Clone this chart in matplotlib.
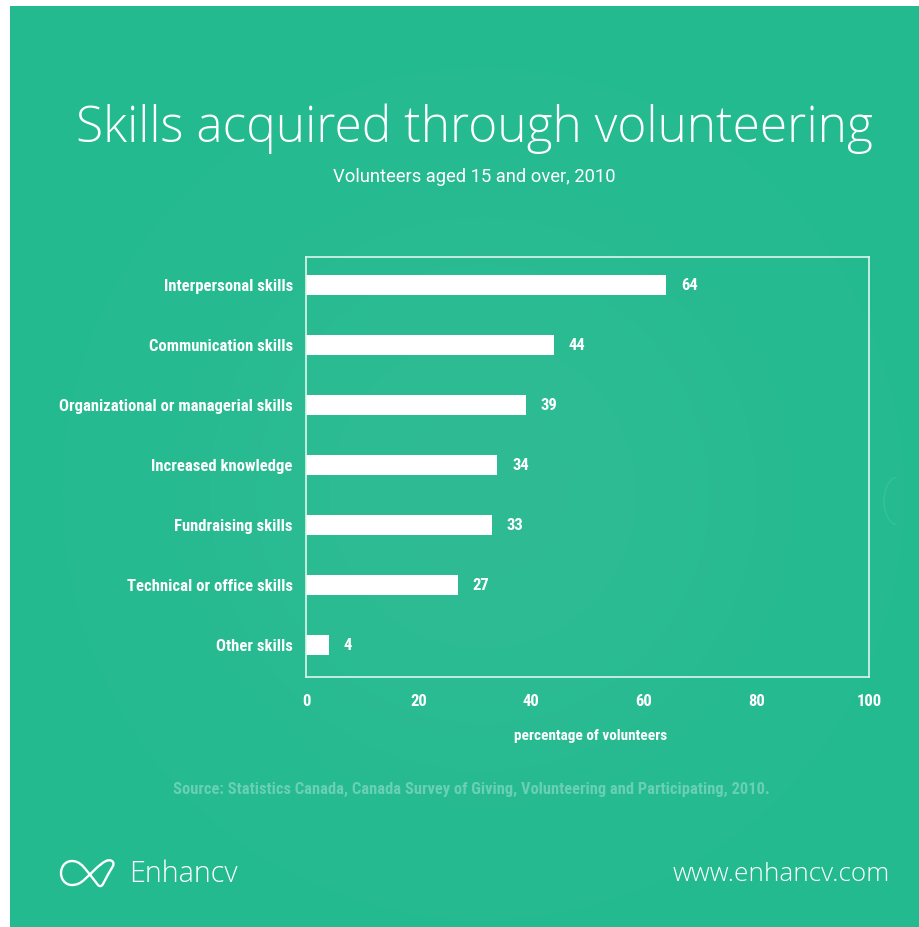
import numpy as np
import matplotlib
matplotlib.use("Agg")
import matplotlib.pyplot as plt
from matplotlib.path import Path
from matplotlib.patches import PathPatch, Arc

categories = ["Interpersonal skills", "Communication skills", "Organizational or managerial skills",
              "Increased knowledge", "Fundraising skills", "Technical or office skills", "Other skills"]
values = [64, 44, 39, 34, 33, 27, 4]
x_ticks = [0, 20, 40, 60, 80, 100]

W, H = 920, 927
NARROW = "Roboto Condensed"
THIN = "Open Sans"

fig = plt.figure(figsize=(W / 100, H / 100), dpi=100, facecolor="white")

# background with soft lighter glow in the middle
bg = fig.add_axes([10 / W, 0, 910 / W, 1 - 6 / H])
yy, xx = np.mgrid[0:1:200j, 0:1:200j]
glow = np.exp(-(((xx - 0.52) / 0.3) ** 2 + ((yy - 0.53) / 0.3) ** 2))
base = np.array([0x24, 0xBA, 0x8F]) / 255
top = np.array([0x2F, 0xBC, 0x95]) / 255
img = base + (top - base) * glow[..., None]
bg.imshow(img, extent=[0, 1, 0, 1], aspect="auto", interpolation="bilinear")
bg.axis("off")

# main chart
ax = fig.add_axes([306 / W, 1 - 677 / H, 563 / W, 420 / H])
ax.patch.set_alpha(0)
y = np.arange(len(categories))
ax.barh(y, values, height=0.32, color="white")
ax.set_xlim(0, 100)
ax.set_ylim(6.533, -0.467)
ax.set_yticks(y)
ax.set_yticklabels(categories)
ax.set_xticks(x_ticks)
ax.tick_params(length=0, colors="white")
ax.tick_params(axis="y", pad=9.5, labelsize=12)
ax.tick_params(axis="x", pad=12, labelsize=12)
for lab in ax.get_yticklabels() + ax.get_xticklabels():
    lab.set_fontfamily(NARROW)
    lab.set_fontweight("bold")
for s in ax.spines.values():
    s.set_color("#DDF5EE")
    s.set_linewidth(1.2)

for i, v in enumerate(values):
    ax.annotate(str(v), (v, i), xytext=(10.5, -0.7), textcoords="offset points", color="white",
                va="center", ha="left", fontsize=12, fontweight="bold", fontfamily=NARROW)

# titles and footer
fig.text(591 / W, 1 - 736 / H, "percentage of volunteers", color="white", fontsize=11, fontweight="bold",
         fontfamily=NARROW, ha="center", va="center")
fig.text(474 / W, 1 - 142 / H, "Skills acquired through volunteering", color="white", fontsize=35.7,
         fontfamily=THIN, fontweight="light", ha="center", va="baseline")
fig.text(474.5 / W, 1 - 177.5 / H, "Volunteers aged 15 and over, 2010", color="white", fontsize=13.2,
         fontfamily="Roboto", ha="center", va="center")
fig.text(471 / W, 1 - 789 / H, "Source: Statistics Canada, Canada Survey of Giving, Volunteering and Participating, 2010.",
         color="#68D0B3", fontsize=11.85, fontweight="bold", fontfamily=NARROW, ha="center", va="center")
fig.text(129 / W, 1 - 882 / H, "Enhancv", color="white", fontsize=20.7, fontfamily=THIN, fontweight="light",
         ha="left", va="baseline")
fig.text(890 / W, 1 - 881 / H, "www.enhancv.com", color="white", fontsize=18.8, fontfamily=THIN, fontweight="light",
         ha="right", va="baseline")

# overlay in pixel coordinates for the logo and the faint arrow
over = fig.add_axes([0, 0, 1, 1])
over.set_xlim(0, W)
over.set_ylim(H, 0)
over.axis("off")
over.patch.set_alpha(0)
logo_pts = [(72, 861),
            (79, 861), (83, 866), (87, 871),
            (91, 876), (95, 881), (98, 885),
            (100, 887), (102, 886), (103, 884),
            (106, 878), (110, 871), (113, 866),
            (115, 861), (110, 859), (106, 861),
            (98, 865), (91, 874), (85, 879),
            (81, 883), (77, 885), (72, 885),
            (65, 885), (61, 879), (61, 873),
            (61, 867), (65, 861), (72, 861)]
logo_codes = [Path.MOVETO] + [Path.CURVE4] * (len(logo_pts) - 1)
over.add_patch(PathPatch(Path(logo_pts, logo_codes), fill=False, edgecolor="white", lw=1.7))
over.add_patch(Arc((898, 501), 28, 48, theta1=95, theta2=265, color="#35C09A", lw=1.2))

fig.savefig("out.png", dpi=100, facecolor="white")
